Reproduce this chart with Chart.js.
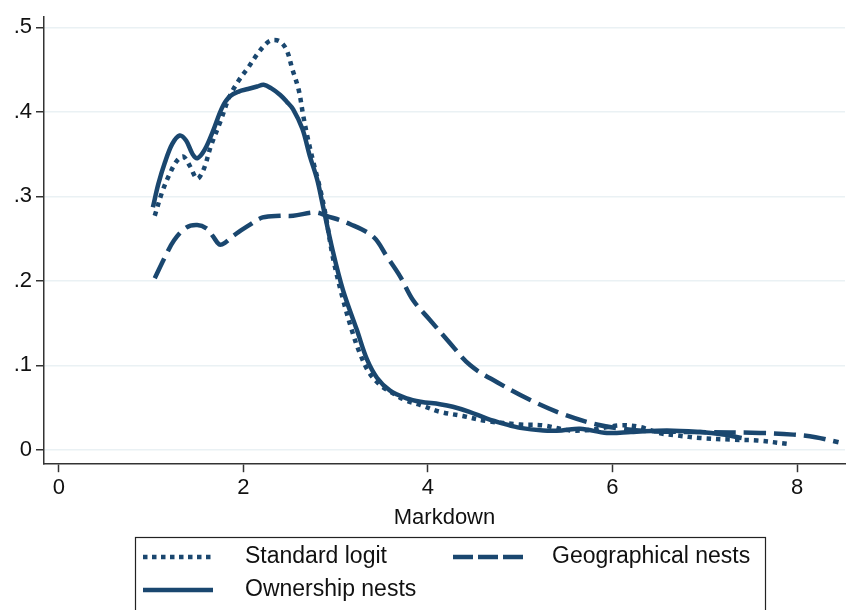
<!DOCTYPE html>
<html>
<head>
<meta charset="utf-8">
<script src="https://cdn.jsdelivr.net/npm/chart.js@4"></script>
<style>
  body { margin: 0; background: #fff; }
  canvas { display: block; }
</style>
</head>
<body>
<canvas id="densityChart" width="850" height="610"></canvas>
<script>
// kernel density of markdowns, three model specs
const logitX = [1.04, 1.12, 1.20, 1.28, 1.35, 1.42, 1.50, 1.57, 1.65, 1.75, 1.85, 1.95, 2.05, 2.15, 2.25, 2.32, 2.40, 2.47, 2.53, 2.60, 2.65, 2.70, 2.76, 2.83, 2.89, 2.97, 3.08, 3.18, 3.26, 3.36, 3.48, 3.59, 3.75, 3.92, 4.13, 4.38, 4.64, 5.00, 5.25, 5.54, 5.79, 6.08, 6.30, 6.50, 6.70, 6.95, 7.31, 7.57, 7.90];
const logitY = [.277, .305, .326, .342, .347, .336, .321, .332, .360, .388, .418, .437, .452, .468, .481, .485, .483, .473, .451, .426, .395, .368, .340, .310, .279, .228, .178, .140, .115, .092, .077, .069, .059, .053, .045, .040, .034, .030, .029, .023, .024, .029, .027, .020, .017, .014, .012, .011, .007];

const ownX = [1.02, 1.08, 1.15, 1.23, 1.31, 1.38, 1.45, 1.50, 1.58, 1.67, 1.77, 1.85, 1.95, 2.05, 2.15, 2.22, 2.30, 2.40, 2.47, 2.54, 2.64, 2.72, 2.80, 2.86, 2.97, 3.08, 3.23, 3.34, 3.45, 3.59, 3.77, 3.92, 4.13, 4.27, 4.45, 4.64, 4.82, 5.00, 5.25, 5.45, 5.65, 5.94, 6.20, 6.59, 6.95, 7.20, 7.40];
const ownY = [.287, .315, .340, .362, .372, .366, .350, .345, .355, .377, .405, .418, .424, .427, .430, .432, .428, .420, .412, .403, .380, .348, .320, .290, .235, .189, .142, .107, .085, .070, .061, .057, .054, .051, .045, .037, .031, .026, .023, .023, .025, .020, .021, .023, .021, .018, .014];

const geoX = [1.04, 1.15, 1.25, 1.38, 1.50, 1.60, 1.67, 1.74, 1.80, 1.90, 2.05, 2.21, 2.40, 2.54, 2.78, 2.90, 3.16, 3.41, 3.56, 3.70, 3.84, 4.02, 4.21, 4.46, 4.75, 5.11, 5.47, 5.83, 6.10, 6.41, 6.95, 7.60, 7.96, 8.20, 8.45];
const geoY = [.203, .228, .248, .263, .266, .262, .253, .243, .245, .254, .265, .275, .277, .277, .281, .277, .267, .252, .228, .205, .177, .154, .130, .100, .080, .059, .042, .030, .025, .022, .021, .020, .018, .015, .009];

const xTicks = [0, 2, 4, 6, 8];
const yTicks = [0, .1, .2, .3, .4, .5];
const legendLabels = ['Standard logit', 'Geographical nests', 'Ownership nests'];

const navy = '#1a476f';
const FONT = "'Liberation Sans', Arial, sans-serif";

const pts = (xs, ys) => xs.map((x, i) => ({ x: x, y: ys[i] }));

// stata-style boxed legend under the plot
const boxLegend = {
  id: 'boxLegend',
  afterDraw(chart) {
    const ctx = chart.ctx;
    ctx.save();
    ctx.strokeStyle = '#222';
    ctx.lineWidth = 1.2;
    ctx.strokeRect(135.5, 537.5, 630, 90);

    const sample = (x0, x1, y, dash) => {
      ctx.beginPath();
      ctx.strokeStyle = navy;
      ctx.lineWidth = 4.5;
      ctx.lineCap = 'butt';
      ctx.setLineDash(dash);
      ctx.moveTo(x0, y);
      ctx.lineTo(x1, y);
      ctx.stroke();
    };
    sample(143, 213, 557, [4.5, 4.5]);
    sample(453, 523, 557, [20, 5]);
    sample(143, 213, 590, []);

    ctx.setLineDash([]);
    ctx.fillStyle = '#111';
    ctx.font = '23px ' + FONT;
    ctx.textBaseline = 'middle';
    ctx.fillText(legendLabels[0], 245, 557);
    ctx.fillText(legendLabels[1], 552, 557);
    ctx.fillText(legendLabels[2], 245, 590);
    ctx.restore();
  }
};

const ctx = document.getElementById('densityChart').getContext('2d');
new Chart(ctx, {
  type: 'line',
  data: {
    datasets: [
      { label: legendLabels[0], data: pts(logitX, logitY), borderDash: [4.5, 5] },
      { label: legendLabels[1], data: pts(geoX, geoY), borderDash: [22, 8] },
      { label: legendLabels[2], data: pts(ownX, ownY) }
    ].map(d => Object.assign({
      borderColor: navy,
      borderWidth: 4.5,
      borderCapStyle: 'butt',
      pointRadius: 0,
      tension: 0.35,
      fill: false
    }, d))
  },
  options: {
    responsive: false,
    animation: false,
    layout: { padding: { top: 10, right: 5, bottom: 79, left: 0 } },
    plugins: {
      legend: { display: false },
      tooltip: { enabled: false }
    },
    scales: {
      x: {
        type: 'linear',
        min: -0.16,
        max: 8.52,
        afterBuildTicks: s => { s.ticks = xTicks.map(v => ({ value: v })); },
        grid: { drawOnChartArea: false, tickLength: 8, tickColor: '#333', tickWidth: 1.5 },
        border: { color: '#333', width: 1.5 },
        ticks: { font: { family: FONT, size: 22 }, color: '#111', padding: 3, maxRotation: 0 },
        title: { display: true, text: 'Markdown', font: { family: FONT, size: 22 }, color: '#111', padding: { top: 0, bottom: 0 } }
      },
      y: {
        min: -0.017,
        max: 0.512,
        afterBuildTicks: s => { s.ticks = yTicks.map(v => ({ value: v })); },
        afterFit: s => { s.width = 44; },
        grid: { color: '#eaf1f4', lineWidth: 1.5, tickLength: 8, tickColor: '#333', tickWidth: 1.5 },
        border: { color: '#333', width: 1.5 },
        ticks: {
          font: { family: FONT, size: 22 },
          color: '#111',
          padding: 4,
          callback: v => v === 0 ? '0' : v.toFixed(1).replace(/^0/, '')
        }
      }
    }
  },
  plugins: [boxLegend]
});
</script>
</body>
</html>
